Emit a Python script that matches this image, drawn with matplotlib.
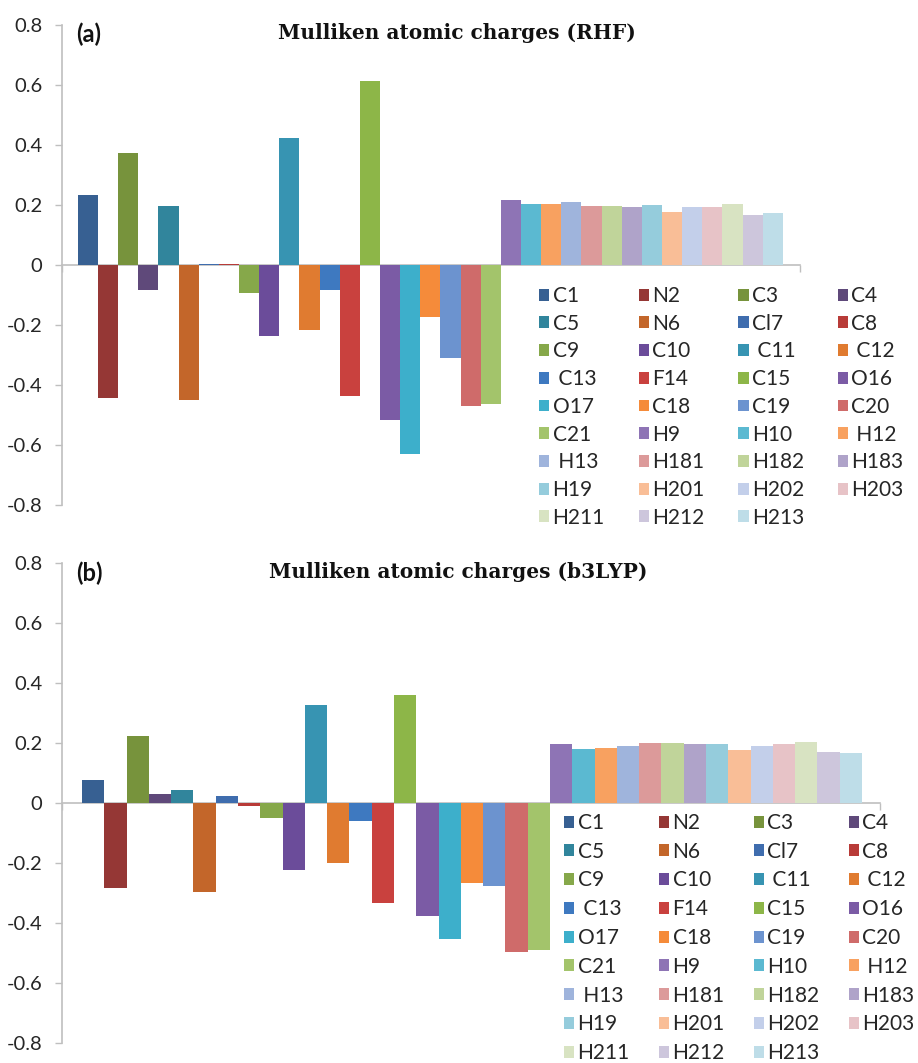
import matplotlib
matplotlib.use('Agg')
import matplotlib.pyplot as plt
import numpy as np

# ---------------- data ----------------
atoms = ['C1', 'N2', 'C3', 'C4', 'C5', 'N6', 'Cl7', 'C8', 'C9', 'C10',
         ' C11', ' C12', ' C13', 'F14', 'C15', 'O16', 'O17', 'C18', 'C19', 'C20',
         'C21', 'H9', 'H10', ' H12', ' H13', 'H181', 'H182', 'H183', 'H19', 'H201',
         'H202', 'H203', 'H211', 'H212', 'H213']

rhf = [0.233, -0.444, 0.375, -0.083, 0.197, -0.451, 0.002, 0.005, -0.094, -0.238,
       0.423, -0.217, -0.083, -0.436, 0.613, -0.516, -0.630, -0.173, -0.309, -0.470,
       -0.463, 0.216, 0.204, 0.204, 0.209, 0.196, 0.196, 0.192, 0.200, 0.176,
       0.192, 0.195, 0.203, 0.167, 0.172]

b3lyp = [0.078, -0.284, 0.225, 0.030, 0.045, -0.297, 0.025, -0.009, -0.051, -0.224,
         0.328, -0.201, -0.059, -0.333, 0.361, -0.378, -0.454, -0.267, -0.278, -0.498,
         -0.491, 0.198, 0.179, 0.184, 0.191, 0.201, 0.201, 0.198, 0.198, 0.177,
         0.190, 0.198, 0.203, 0.170, 0.168]

colors = ['#376092', '#953735', '#77933C', '#5F497A', '#31859C', '#C3662A',
          '#3F6DAE', '#B83B38', '#86A84A', '#6B4C9A', '#3794B2', '#E07B30',
          '#3E79C0', '#C9413E', '#8DB648', '#7B5BA5', '#3DAFCB', '#F58B3A',
          '#6C93CF', '#CF6B6A', '#A3C46B', '#8E74B5', '#5BB9D1', '#F8A160',
          '#9FB4DC', '#DC9A9A', '#C0D49A', '#AFA3C9', '#95CCDC', '#F9BE97',
          '#C3CFEA', '#E7C3C7', '#D8E3C2', '#CDC6DC', '#BEDDE8']

yticks = [-0.8, -0.6, -0.4, -0.2, 0, 0.2, 0.4, 0.6, 0.8]
ytick_labels = ['-0.8', '-0.6', '-0.4', '-0.2', '0', '0.2', '0.4', '0.6', '0.8']

titles = ['Mulliken atomic charges (RHF)', 'Mulliken atomic charges (b3LYP)']
panel_tags = ['(a)', '(b)']

# ---------------- figure ----------------
W, H = 918, 1063
fig = plt.figure(figsize=(W / 100, H / 100), dpi=100)
fig.patch.set_facecolor('white')

SANS = ['Lato', 'DejaVu Sans']
AXIS_GRAY = '#BFBFBF'
TXT = '#262626'


def fx(px):
    return px / W


def fy(py):
    return 1 - py / H


panels = [
    dict(vals=rhf, box=(62, 800, 25, 505), xl=(-1.29, 35.35),
         leg_anchor=(539, 286), colsp=1.62, lsp=0.37,
         title_xy=(457, 33), tag_xy=(76, 34)),
    dict(vals=b3lyp, box=(62, 880, 563, 1043), xl=(-1.40, 35.31),
         leg_anchor=(564, 813), colsp=1.40, lsp=0.42,
         title_xy=(458, 572), tag_xy=(76, 573)),
]

x = np.arange(len(atoms))
ncol = 4

for p, title, tag in zip(panels, titles, panel_tags):
    l, r, t, b = p['box']
    ax = fig.add_axes([fx(l), fy(b), fx(r) - fx(l), fy(t) - fy(b)])
    bars = ax.bar(x, p['vals'], width=1.0, color=colors, linewidth=0, zorder=2)
    ax.set_xlim(*p['xl'])
    ax.set_ylim(-0.8, 0.8)
    ax.set_yticks(yticks)
    ax.set_yticklabels(ytick_labels, fontfamily=SANS, fontsize=14.5, color=TXT)
    for s in ['top', 'right']:
        ax.spines[s].set_visible(False)
    ax.spines['left'].set_color(AXIS_GRAY)
    ax.spines['left'].set_linewidth(1.2)
    ax.spines['bottom'].set_position(('data', 0))
    ax.spines['bottom'].set_color(AXIS_GRAY)
    ax.spines['bottom'].set_linewidth(1.2)
    ax.spines['bottom'].set_zorder(1)
    ax.tick_params(axis='y', direction='out', length=5, width=1.0,
                   color=AXIS_GRAY, pad=9)
    ax.set_xticks([p['xl'][0], p['xl'][1]])
    ax.set_xticklabels(['', ''])
    ax.tick_params(axis='x', direction='out', length=5, width=1.0, color=AXIS_GRAY)
    ax.patch.set_alpha(0)

    # legend: Excel fills row-wise, matplotlib fills column-wise -> reorder
    handles = list(bars.patches)
    nbig, rem = divmod(len(atoms), ncol)
    rows_per_col = [nbig + 1] * rem + [nbig] * (ncol - rem)
    order = []
    for j in range(ncol):
        for i in range(rows_per_col[j]):
            order.append(i * ncol + j)
    leg = fig.legend([handles[k] for k in order], [atoms[k] for k in order],
                     ncol=ncol, loc='upper left',
                     bbox_to_anchor=(fx(p['leg_anchor'][0]), fy(p['leg_anchor'][1])),
                     frameon=False, borderpad=0, borderaxespad=0,
                     handlelength=0.5, handleheight=0.5, handletextpad=0.15,
                     columnspacing=p['colsp'], labelspacing=p['lsp'],
                     prop={'family': SANS, 'size': 15})
    for txt in leg.get_texts():
        txt.set_color(TXT)

    fig.text(fx(p['title_xy'][0]), fy(p['title_xy'][1]), title,
             fontfamily='DejaVu Serif', fontweight='bold', fontsize=14.5,
             ha='center', va='center', color='#111111')
    fig.text(fx(p['tag_xy'][0]), fy(p['tag_xy'][1]), tag,
             fontfamily=SANS, fontweight='bold', fontsize=17,
             ha='left', va='center', color='#111111')

fig.savefig('out.png', dpi=100, facecolor='white')
